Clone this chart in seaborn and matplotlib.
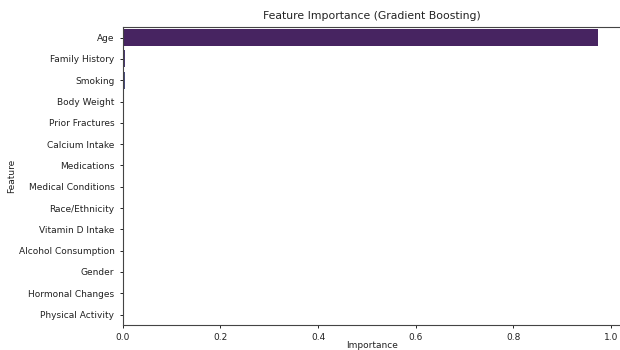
import numpy as np
import pandas as pd
import seaborn as sns
import matplotlib

matplotlib.use("Agg")
import matplotlib.pyplot as plt

features = [
    "Age",
    "Family History",
    "Smoking",
    "Body Weight",
    "Prior Fractures",
    "Calcium Intake",
    "Medications",
    "Medical Conditions",
    "Race/Ethnicity",
    "Vitamin D Intake",
    "Alcohol Consumption",
    "Gender",
    "Hormonal Changes",
    "Physical Activity",
]
importance = [
    0.973, 0.0045, 0.0040, 0.0022, 0.0016, 0.0014, 0.0012,
    0.0011, 0.0006, 0.0005, 0.0004, 0.0003, 0.0003, 0.0002,
]

df = pd.DataFrame({"Feature": features, "Importance": importance})

fig = plt.figure(figsize=(6.2, 3.5), dpi=100)
ax = fig.add_axes([0.198, 0.071, 0.805, 0.852])

sns.barplot(data=df, x="Importance", y="Feature", hue="Feature",
            palette="viridis", legend=False, ax=ax)

ax.set_xlim(0, 1.022)
ax.set_title("Feature Importance (Gradient Boosting)", fontsize=7.8, color="#222222")
ax.set_xlabel("Importance", fontsize=6.5, color="#222222")
ax.set_ylabel("Feature", fontsize=6.5, color="#222222")
ax.xaxis.set_label_coords(0.5, -0.052)
ax.yaxis.set_label_coords(-0.214, 0.5)
ax.tick_params(labelsize=6.5, length=2.5, width=0.6, labelcolor="#222222")
for s in ax.spines.values():
    s.set_linewidth(0.8)
    s.set_color("#444444")

fig.savefig("out.png", dpi=100)
